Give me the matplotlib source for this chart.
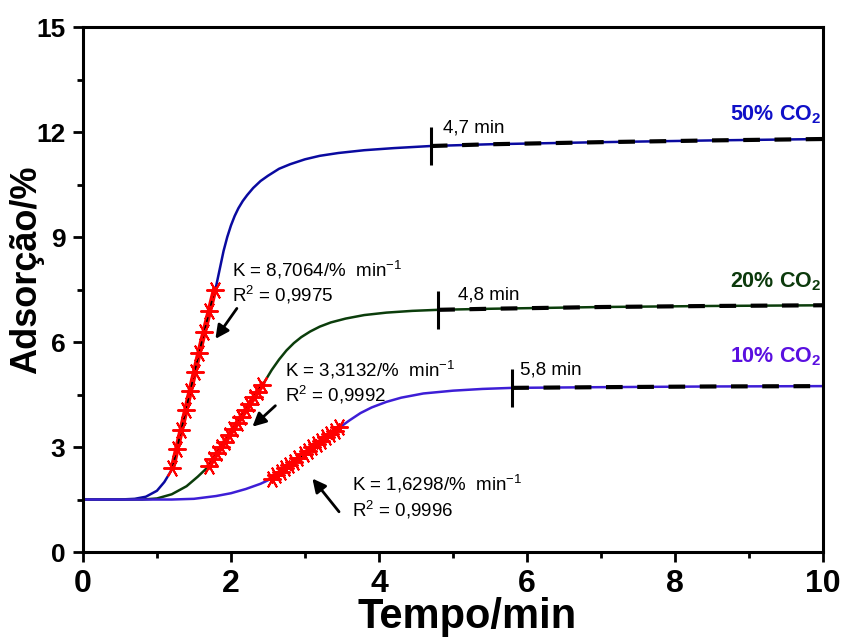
import numpy as np
import matplotlib
matplotlib.use('Agg')
import matplotlib.pyplot as plt

plt.rcParams['font.family'] = ['Liberation Sans', 'DejaVu Sans']
plt.rcParams['mathtext.default'] = 'regular'

# adsorption curves (time in min, adsorption in %)
t50 = [0, 0.5, 0.7, 0.85, 1.0, 1.1, 1.2, 1.3, 1.4, 1.5, 1.6, 1.7, 1.8, 1.85, 1.9,
       1.95, 2.0, 2.05, 2.1, 2.16, 2.22, 2.3, 2.4, 2.5, 2.65, 2.8, 3.0, 3.2, 3.45,
       3.8, 4.2, 4.7, 5.5, 7.0, 8.5, 10.0]
y50 = [1.5, 1.5, 1.52, 1.58, 1.75, 2.0, 2.35, 3.25, 4.15, 5.05, 5.95, 6.8, 7.6, 8.1,
       8.6, 9.0, 9.33, 9.6, 9.82, 10.03, 10.2, 10.4, 10.6, 10.75, 10.95, 11.08, 11.22,
       11.32, 11.4, 11.48, 11.54, 11.6, 11.65, 11.71, 11.76, 11.8]

t20 = [0, 0.8, 1.0, 1.2, 1.4, 1.55, 1.7, 1.85, 2.0, 2.15, 2.3, 2.45, 2.55, 2.65,
       2.75, 2.85, 2.95, 3.07, 3.2, 3.35, 3.55, 3.8, 4.1, 4.45, 4.8, 5.5, 7.0, 8.5, 10.0]
y20 = [1.5, 1.5, 1.53, 1.65, 1.88, 2.15, 2.45, 2.93, 3.42, 3.9, 4.38, 4.85, 5.2,
       5.5, 5.76, 5.97, 6.14, 6.3, 6.44, 6.56, 6.67, 6.77, 6.84, 6.89, 6.92, 6.95,
       7.0, 7.03, 7.05]

t10 = [0, 1.2, 1.5, 1.8, 2.0, 2.2, 2.4, 2.55, 2.7, 2.85, 3.0, 3.15, 3.3, 3.45, 3.6,
       3.75, 3.9, 4.1, 4.3, 4.6, 5.0, 5.4, 5.8, 7.0, 8.5, 10.0]
y10 = [1.5, 1.5, 1.52, 1.6, 1.68, 1.8, 1.95, 2.1, 2.34, 2.58, 2.82, 3.05, 3.29, 3.53,
       3.76, 3.97, 4.13, 4.29, 4.41, 4.53, 4.61, 4.66, 4.69, 4.71, 4.73, 4.74]

# points used in the linear fits
k50_t = [1.21, 1.27, 1.33, 1.39, 1.45, 1.51, 1.57, 1.64, 1.71, 1.78]
k50_y = [2.4, 2.95, 3.5, 4.05, 4.6, 5.15, 5.7, 6.3, 6.9, 7.5]
k20_t = [1.70, 1.76, 1.81, 1.87, 1.92, 1.98, 2.03, 2.09, 2.14, 2.20, 2.25, 2.31, 2.36, 2.42]
k20_y = [2.45, 2.65, 2.82, 3.0, 3.15, 3.35, 3.52, 3.7, 3.87, 4.05, 4.22, 4.42, 4.58, 4.78]
k10_t = [2.55, 2.61, 2.67, 2.73, 2.79, 2.85, 2.91, 2.98, 3.04, 3.10, 3.16, 3.22,
         3.28, 3.34, 3.40, 3.46]
k10_y = [2.10, 2.19, 2.29, 2.39, 2.49, 2.58, 2.68, 2.79, 2.89, 2.99, 3.08, 3.18,
         3.28, 3.37, 3.47, 3.56]

# equilibrium times
eq_t = [4.7, 4.8, 5.8]
eq_y = [11.6, 6.92, 4.69]
eq_lbl = ['4,7 min', '4,8 min', '5,8 min']

k_lbl = ['K = 8,7064/%  min$^{-1}$', 'K = 3,3132/%  min$^{-1}$', 'K = 1,6298/%  min$^{-1}$']
r2_lbl = ['R$^2$ = 0,9975', 'R$^2$ = 0,9992', 'R$^2$ = 0,9996']
names = ['50% CO$_2$', '20% CO$_2$', '10% CO$_2$']
line_cols = ['#0a0aa0', '#0b3d0b', '#3d1ed6']
name_cols = ['#1010c8', '#0c3a0c', '#5a10e0']

fig = plt.figure(figsize=(8.46, 6.37), dpi=100)
ax = fig.add_axes([0.098, 0.1334, 0.875, 0.8242])

curves = [(t50, y50), (t20, y20), (t10, y10)]
fits = [(k50_t, k50_y), (k20_t, k20_y), (k10_t, k10_y)]

for i, (t, y) in enumerate(curves):
    t = np.array(t)
    y = np.array(y)
    ax.plot(t, y, color=line_cols[i], lw=1.8, zorder=2, solid_joinstyle='round')
    m = t >= eq_t[i]
    tt = np.concatenate([[eq_t[i]], t[m]])
    yy = np.concatenate([[eq_y[i]], y[m]])
    ax.plot(tt, yy, color='k', lw=3, ls=(0, (4, 3.5)), zorder=3)
    ax.plot(eq_t[i], eq_y[i], marker='|', ms=28, mew=2.2, color='k', zorder=4)

for kt, ky in fits:
    ax.plot(kt, ky, color='red', lw=4, zorder=4)
    ax.plot(kt, ky, color='k', lw=1.2, ls=(0, (3, 2)), zorder=5)
    ax.plot(kt, ky, ls='none', marker=(6, 2, 90), ms=13, mew=1.4,
            color='red', zorder=6)

# labels of the fits
k_pos = [(2.01, 8.06, 7.34), (2.73, 5.2, 4.49), (3.64, 1.94, 1.2)]
for i, (x, yk, yr) in enumerate(k_pos):
    ax.text(x, yk, k_lbl[i], fontsize=13.5, va='center', ha='left')
    ax.text(x, yr, r2_lbl[i], fontsize=13.5, va='center', ha='left')

arrows = [((2.08, 6.96), (1.79, 6.09)), ((2.60, 4.18), (2.29, 3.58)),
          ((3.46, 1.15), (3.10, 2.10))]
for tail, head in arrows:
    ax.annotate('', xy=head, xytext=tail,
                arrowprops=dict(arrowstyle='-|>', color='k', lw=2,
                                mutation_scale=20, shrinkA=0, shrinkB=0))

eq_pos = [(4.86, 12.11), (5.07, 7.34), (5.9, 5.2)]
for i, (x, y) in enumerate(eq_pos):
    ax.text(x, y, eq_lbl[i], fontsize=13.5, va='center', ha='left')

name_y = [12.49, 7.71, 5.57]
for i in range(3):
    ax.text(9.97, name_y[i], names[i], fontsize=15.5, fontweight='bold',
            color=name_cols[i], ha='right', va='center')

ax.set_xlim(0, 10)
ax.set_ylim(0, 15)
ax.set_xticks([0, 2, 4, 6, 8, 10])
ax.set_xticks([1, 3, 5, 7, 9], minor=True)
ax.set_yticks([0, 3, 6, 9, 12, 15])
ax.set_yticks([1.5, 4.5, 7.5, 10.5, 13.5], minor=True)
ax.tick_params(which='major', direction='out', length=7, width=2, pad=5.5)
ax.tick_params(which='minor', direction='out', length=4, width=2)
ax.tick_params(axis='x', which='major', labelsize=23)
ax.tick_params(axis='y', which='major', labelsize=19)
for lab in ax.get_xticklabels() + ax.get_yticklabels():
    lab.set_fontweight('bold')
for sp in ax.spines.values():
    sp.set_linewidth(2.2)

ax.set_xlabel('Tempo/min', fontsize=30, fontweight='bold')
ax.set_ylabel('Adsorção/%', fontsize=26, fontweight='bold')
ax.xaxis.set_label_coords(0.519, -0.085)
ax.yaxis.set_label_coords(-0.052, 0.537)

fig.savefig('out.png', dpi=100)
